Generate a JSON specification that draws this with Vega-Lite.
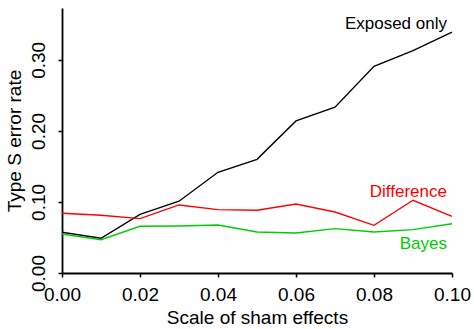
{
  "$schema": "https://vega.github.io/schema/vega-lite/v6.json",
  "width": 390,
  "height": 265,
  "autosize": "none",
  "padding": {"left": 62, "top": 8, "right": 22, "bottom": 56},
  "config": {"view": {"stroke": null}, "font": "Liberation Sans", "background": "white"},
  "datasets": {
    "rates": [
      {"x": 0.00, "rate": 0.0573, "series": "Exposed only"},
      {"x": 0.01, "rate": 0.0489, "series": "Exposed only"},
      {"x": 0.02, "rate": 0.0826, "series": "Exposed only"},
      {"x": 0.03, "rate": 0.1010, "series": "Exposed only"},
      {"x": 0.04, "rate": 0.1418, "series": "Exposed only"},
      {"x": 0.05, "rate": 0.1600, "series": "Exposed only"},
      {"x": 0.06, "rate": 0.2140, "series": "Exposed only"},
      {"x": 0.07, "rate": 0.2333, "series": "Exposed only"},
      {"x": 0.08, "rate": 0.2910, "series": "Exposed only"},
      {"x": 0.09, "rate": 0.3130, "series": "Exposed only"},
      {"x": 0.10, "rate": 0.3390, "series": "Exposed only"},
      {"x": 0.00, "rate": 0.0840, "series": "Difference"},
      {"x": 0.01, "rate": 0.0812, "series": "Difference"},
      {"x": 0.02, "rate": 0.0765, "series": "Difference"},
      {"x": 0.03, "rate": 0.0958, "series": "Difference"},
      {"x": 0.04, "rate": 0.0892, "series": "Difference"},
      {"x": 0.05, "rate": 0.0883, "series": "Difference"},
      {"x": 0.06, "rate": 0.0972, "series": "Difference"},
      {"x": 0.07, "rate": 0.0859, "series": "Difference"},
      {"x": 0.08, "rate": 0.0671, "series": "Difference"},
      {"x": 0.09, "rate": 0.1024, "series": "Difference"},
      {"x": 0.10, "rate": 0.0798, "series": "Difference"},
      {"x": 0.00, "rate": 0.0549, "series": "Bayes"},
      {"x": 0.01, "rate": 0.0469, "series": "Bayes"},
      {"x": 0.02, "rate": 0.0657, "series": "Bayes"},
      {"x": 0.03, "rate": 0.0662, "series": "Bayes"},
      {"x": 0.04, "rate": 0.0676, "series": "Bayes"},
      {"x": 0.05, "rate": 0.0577, "series": "Bayes"},
      {"x": 0.06, "rate": 0.0563, "series": "Bayes"},
      {"x": 0.07, "rate": 0.0624, "series": "Bayes"},
      {"x": 0.08, "rate": 0.0577, "series": "Bayes"},
      {"x": 0.09, "rate": 0.0610, "series": "Bayes"},
      {"x": 0.10, "rate": 0.0694, "series": "Bayes"}
    ],
    "labels": [
      {"x": 0.10, "rate": 0.350, "series": "Exposed only"},
      {"x": 0.10, "rate": 0.1137, "series": "Difference"},
      {"x": 0.10, "rate": 0.0404, "series": "Bayes"}
    ]
  },
  "layer": [
    {
      "data": {"name": "rates"},
      "mark": {"type": "line", "strokeWidth": 1.4, "clip": false},
      "encoding": {
        "x": {
          "field": "x", "type": "quantitative",
          "scale": {"domain": [0, 0.1], "nice": false, "zero": false},
          "axis": {
            "values": [0, 0.02, 0.04, 0.06, 0.08, 0.1],
            "format": ".2f",
            "grid": false,
            "title": "Scale of sham effects",
            "titleFontSize": 19,
            "titleFontWeight": "normal",
            "titleColor": "black",
            "titlePadding": 4,
            "labelFontSize": 19,
            "labelColor": "black",
            "labelFlush": false,
            "labelOverlap": false,
            "labelPadding": 8,
            "tickSize": 4,
            "tickColor": "black",
            "tickWidth": 1.5,
            "domainColor": "black",
            "domainWidth": 1.8
          }
        },
        "y": {
          "field": "rate", "type": "quantitative",
          "scale": {"domain": [0, 0.373], "nice": false, "zero": false},
          "axis": {
            "values": [0, 0.05, 0.1, 0.15, 0.2, 0.25, 0.3, 0.35],
            "labelExpr": "round(datum.value*20) % 2 === 0 ? format(datum.value, '.2f') : ''",
            "grid": false,
            "title": "Type S error rate",
            "titleFontSize": 19,
            "titleFontWeight": "normal",
            "titleColor": "black",
            "titlePadding": 5,
            "labelFontSize": 19,
            "labelColor": "black",
            "labelAngle": -90,
            "labelAlign": "center",
            "labelBaseline": "bottom",
            "labelFlush": false,
            "labelOverlap": false,
            "labelPadding": 10,
            "tickSize": 4,
            "tickColor": "black",
            "tickWidth": 1.5,
            "domainColor": "black",
            "domainWidth": 1.8
          }
        },
        "color": {
          "field": "series", "type": "nominal",
          "scale": {"domain": ["Exposed only", "Difference", "Bayes"], "range": ["#000000", "#ff0000", "#00cd00"]},
          "legend": null
        }
      }
    },
    {
      "data": {"name": "labels"},
      "mark": {"type": "text", "align": "right", "baseline": "middle", "dx": -5, "fontSize": 17},
      "encoding": {
        "x": {"field": "x", "type": "quantitative"},
        "y": {"field": "rate", "type": "quantitative"},
        "text": {"field": "series"},
        "color": {
          "field": "series", "type": "nominal",
          "scale": {"domain": ["Exposed only", "Difference", "Bayes"], "range": ["#000000", "#ff0000", "#00cd00"]},
          "legend": null
        }
      }
    }
  ]
}
